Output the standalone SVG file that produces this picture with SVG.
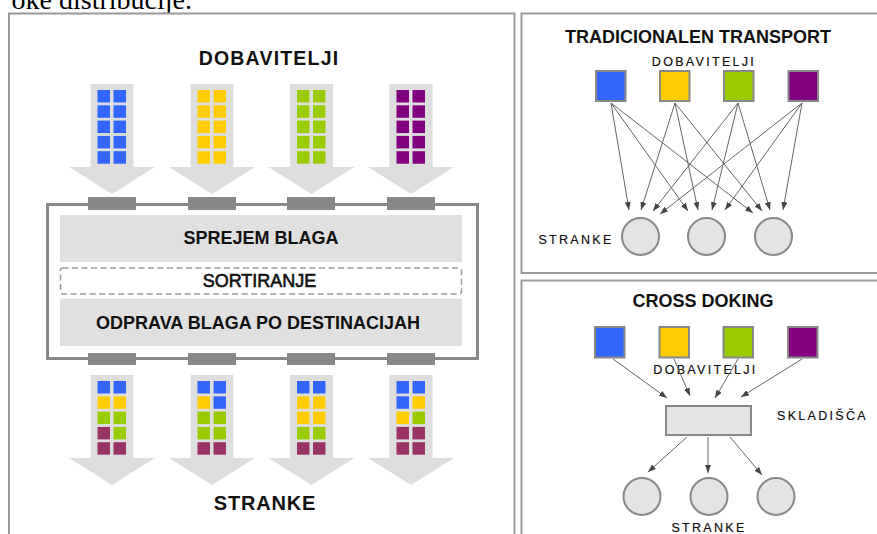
<svg xmlns="http://www.w3.org/2000/svg" xmlns:xlink="http://www.w3.org/1999/xlink" width="877" height="534" viewBox="0 0 877 534">
<style>
.panel{fill:#fff;stroke:#9a9a9a;stroke-width:2}
.arr{fill:#dedede}
.b{fill:#3366ff}.y{fill:#ffcc00}.g{fill:#99cc00}.p{fill:#800080}.m{fill:#993366}
.dock{fill:#888}
.band{fill:#e0e0e0}
.t{font-family:"Liberation Sans",Arial,sans-serif;fill:#111;text-anchor:middle}
.tb{font-weight:bold;font-size:18px}
.sm{font-size:12.5px;letter-spacing:2.3px;fill:#111;stroke:#111;stroke-width:0.2}
.sq{stroke:#888;stroke-width:2}
.node{fill:#e4e4e4;stroke:#888;stroke-width:2}
.ln{stroke:#666;stroke-width:1;fill:none;marker-end:url(#ah)}
</style>
<defs>
<marker id="ah" viewBox="0 0 8 6" refX="8" refY="3" markerWidth="8" markerHeight="6" markerUnits="userSpaceOnUse" orient="auto">
<path d="M0,0 L8,3 L0,6 z" fill="#444"/>
</marker>
<polygon id="bigarrow" class="arr" points="-21.5,0 21.5,0 21.5,83 43,83 0,110 -43,83 -21.5,83"/>
</defs>

<text x="192" y="9" font-family="'Liberation Serif','Times New Roman',serif" font-size="28" text-anchor="end" fill="#000">oke distribucije.</text>

<!-- left panel -->
<g id="left-panel">
<rect class="panel" x="9" y="13.5" width="505.5" height="530"/>
<text class="t" x="269" y="65" font-weight="bold" font-size="19.5" letter-spacing="1.2">DOBAVITELJI</text>
</g>

<g id="supplier-arrows">
<g transform="translate(112,84)"><use xlink:href="#bigarrow"/>
<rect class="b" x="-14.5" y="6" width="12.5" height="12.5"/><rect class="b" x="1.5" y="6" width="12.5" height="12.5"/>
<rect class="b" x="-14.5" y="21.3" width="12.5" height="12.5"/><rect class="b" x="1.5" y="21.3" width="12.5" height="12.5"/>
<rect class="b" x="-14.5" y="36.6" width="12.5" height="12.5"/><rect class="b" x="1.5" y="36.6" width="12.5" height="12.5"/>
<rect class="b" x="-14.5" y="51.9" width="12.5" height="12.5"/><rect class="b" x="1.5" y="51.9" width="12.5" height="12.5"/>
<rect class="b" x="-14.5" y="67.2" width="12.5" height="12.5"/><rect class="b" x="1.5" y="67.2" width="12.5" height="12.5"/>
</g>
<g transform="translate(212,84)"><use xlink:href="#bigarrow"/>
<rect class="y" x="-14.5" y="6" width="12.5" height="12.5"/><rect class="y" x="1.5" y="6" width="12.5" height="12.5"/>
<rect class="y" x="-14.5" y="21.3" width="12.5" height="12.5"/><rect class="y" x="1.5" y="21.3" width="12.5" height="12.5"/>
<rect class="y" x="-14.5" y="36.6" width="12.5" height="12.5"/><rect class="y" x="1.5" y="36.6" width="12.5" height="12.5"/>
<rect class="y" x="-14.5" y="51.9" width="12.5" height="12.5"/><rect class="y" x="1.5" y="51.9" width="12.5" height="12.5"/>
<rect class="y" x="-14.5" y="67.2" width="12.5" height="12.5"/><rect class="y" x="1.5" y="67.2" width="12.5" height="12.5"/>
</g>
<g transform="translate(311.5,84)"><use xlink:href="#bigarrow"/>
<rect class="g" x="-14.5" y="6" width="12.5" height="12.5"/><rect class="g" x="1.5" y="6" width="12.5" height="12.5"/>
<rect class="g" x="-14.5" y="21.3" width="12.5" height="12.5"/><rect class="g" x="1.5" y="21.3" width="12.5" height="12.5"/>
<rect class="g" x="-14.5" y="36.6" width="12.5" height="12.5"/><rect class="g" x="1.5" y="36.6" width="12.5" height="12.5"/>
<rect class="g" x="-14.5" y="51.9" width="12.5" height="12.5"/><rect class="g" x="1.5" y="51.9" width="12.5" height="12.5"/>
<rect class="g" x="-14.5" y="67.2" width="12.5" height="12.5"/><rect class="g" x="1.5" y="67.2" width="12.5" height="12.5"/>
</g>
<g transform="translate(411,84)"><use xlink:href="#bigarrow"/>
<rect class="p" x="-14.5" y="6" width="12.5" height="12.5"/><rect class="p" x="1.5" y="6" width="12.5" height="12.5"/>
<rect class="p" x="-14.5" y="21.3" width="12.5" height="12.5"/><rect class="p" x="1.5" y="21.3" width="12.5" height="12.5"/>
<rect class="p" x="-14.5" y="36.6" width="12.5" height="12.5"/><rect class="p" x="1.5" y="36.6" width="12.5" height="12.5"/>
<rect class="p" x="-14.5" y="51.9" width="12.5" height="12.5"/><rect class="p" x="1.5" y="51.9" width="12.5" height="12.5"/>
<rect class="p" x="-14.5" y="67.2" width="12.5" height="12.5"/><rect class="p" x="1.5" y="67.2" width="12.5" height="12.5"/>
</g>
</g>

<g id="crossdock-box">
<rect x="47.5" y="204.5" width="430" height="154" fill="#fff" stroke="#888" stroke-width="3"/>
<rect class="dock" x="88" y="197" width="48" height="13"/>
<rect class="dock" x="188" y="197" width="48" height="13"/>
<rect class="dock" x="287" y="197" width="48" height="13"/>
<rect class="dock" x="387" y="197" width="48" height="13"/>
<rect class="dock" x="88" y="353" width="48" height="12"/>
<rect class="dock" x="188" y="353" width="48" height="12"/>
<rect class="dock" x="287" y="353" width="48" height="12"/>
<rect class="dock" x="387" y="353" width="48" height="12"/>
</g>
<g id="sprejem">
<rect class="band" x="60" y="215" width="402" height="47"/>
<text class="t tb" x="261" y="243.5">SPREJEM BLAGA</text>
</g>
<g id="sortiranje">
<rect x="60.5" y="268" width="401" height="26" rx="2" fill="#fff" stroke="#999" stroke-width="1.5" stroke-dasharray="6,3.5"/>
<text class="t" x="259.5" y="287" font-size="18" stroke="#111" stroke-width="0.6">SORTIRANJE</text>
</g>
<g id="odprava">
<rect class="band" x="60" y="298.5" width="402" height="47.5"/>
<text class="t tb" x="258" y="328.5">ODPRAVA BLAGA PO DESTINACIJAH</text>
</g>

<g id="customer-arrows">
<g transform="translate(112,375)"><use xlink:href="#bigarrow"/>
<rect class="b" x="-14.5" y="6" width="12.5" height="12.5"/><rect class="b" x="1.5" y="6" width="12.5" height="12.5"/>
<rect class="y" x="-14.5" y="21.3" width="12.5" height="12.5"/><rect class="y" x="1.5" y="21.3" width="12.5" height="12.5"/>
<rect class="g" x="-14.5" y="36.6" width="12.5" height="12.5"/><rect class="g" x="1.5" y="36.6" width="12.5" height="12.5"/>
<rect class="m" x="-14.5" y="51.9" width="12.5" height="12.5"/><rect class="g" x="1.5" y="51.9" width="12.5" height="12.5"/>
<rect class="m" x="-14.5" y="67.2" width="12.5" height="12.5"/><rect class="m" x="1.5" y="67.2" width="12.5" height="12.5"/>
</g>
<g transform="translate(212,375)"><use xlink:href="#bigarrow"/>
<rect class="b" x="-14.5" y="6" width="12.5" height="12.5"/><rect class="b" x="1.5" y="6" width="12.5" height="12.5"/>
<rect class="y" x="-14.5" y="21.3" width="12.5" height="12.5"/><rect class="b" x="1.5" y="21.3" width="12.5" height="12.5"/>
<rect class="g" x="-14.5" y="36.6" width="12.5" height="12.5"/><rect class="g" x="1.5" y="36.6" width="12.5" height="12.5"/>
<rect class="g" x="-14.5" y="51.9" width="12.5" height="12.5"/><rect class="g" x="1.5" y="51.9" width="12.5" height="12.5"/>
<rect class="m" x="-14.5" y="67.2" width="12.5" height="12.5"/><rect class="m" x="1.5" y="67.2" width="12.5" height="12.5"/>
</g>
<g transform="translate(311.5,375)"><use xlink:href="#bigarrow"/>
<rect class="b" x="-14.5" y="6" width="12.5" height="12.5"/><rect class="b" x="1.5" y="6" width="12.5" height="12.5"/>
<rect class="y" x="-14.5" y="21.3" width="12.5" height="12.5"/><rect class="y" x="1.5" y="21.3" width="12.5" height="12.5"/>
<rect class="y" x="-14.5" y="36.6" width="12.5" height="12.5"/><rect class="y" x="1.5" y="36.6" width="12.5" height="12.5"/>
<rect class="g" x="-14.5" y="51.9" width="12.5" height="12.5"/><rect class="g" x="1.5" y="51.9" width="12.5" height="12.5"/>
<rect class="m" x="-14.5" y="67.2" width="12.5" height="12.5"/><rect class="m" x="1.5" y="67.2" width="12.5" height="12.5"/>
</g>
<g transform="translate(411,375)"><use xlink:href="#bigarrow"/>
<rect class="b" x="-14.5" y="6" width="12.5" height="12.5"/><rect class="b" x="1.5" y="6" width="12.5" height="12.5"/>
<rect class="b" x="-14.5" y="21.3" width="12.5" height="12.5"/><rect class="y" x="1.5" y="21.3" width="12.5" height="12.5"/>
<rect class="y" x="-14.5" y="36.6" width="12.5" height="12.5"/><rect class="g" x="1.5" y="36.6" width="12.5" height="12.5"/>
<rect class="m" x="-14.5" y="51.9" width="12.5" height="12.5"/><rect class="m" x="1.5" y="51.9" width="12.5" height="12.5"/>
<rect class="m" x="-14.5" y="67.2" width="12.5" height="12.5"/><rect class="m" x="1.5" y="67.2" width="12.5" height="12.5"/>
</g>
</g>
<text class="t" x="265" y="509.5" font-weight="bold" font-size="20" letter-spacing="0.8">STRANKE</text>

<!-- top right panel: traditional transport -->
<g id="trad-panel">
<rect class="panel" x="521.5" y="13.5" width="370" height="259.5"/>
<text class="t tb" x="698" y="42.5">TRADICIONALEN TRANSPORT</text>
<text class="t sm" x="704" y="65.5">DOBAVITELJI</text>
<text class="t sm" x="576" y="244" letter-spacing="1.6">STRANKE</text>
</g>
<g id="trad-connectors">
<line class="ln" x1="611" y1="103" x2="629" y2="210"/>
<line class="ln" x1="611" y1="103" x2="688" y2="211"/>
<line class="ln" x1="611" y1="103" x2="753" y2="213"/>
<line class="ln" x1="675" y1="103" x2="641" y2="210"/>
<line class="ln" x1="675" y1="103" x2="698" y2="210"/>
<line class="ln" x1="675" y1="103" x2="762" y2="211"/>
<line class="ln" x1="738" y1="103" x2="653" y2="211"/>
<line class="ln" x1="738" y1="103" x2="712" y2="210"/>
<line class="ln" x1="738" y1="103" x2="770" y2="210"/>
<line class="ln" x1="802" y1="103" x2="660" y2="214"/>
<line class="ln" x1="802" y1="103" x2="725" y2="210"/>
<line class="ln" x1="802" y1="103" x2="783" y2="210"/>
</g>
<g id="trad-sup-blue"><rect class="sq b" x="596" y="71" width="29.5" height="30"/></g>
<g id="trad-sup-yellow"><rect class="sq y" x="660" y="71" width="29.5" height="30"/></g>
<g id="trad-sup-green"><rect class="sq g" x="724" y="71" width="29.5" height="30"/></g>
<g id="trad-sup-purple"><rect class="sq p" x="788.5" y="71" width="29.5" height="30"/></g>
<g id="trad-cust-1"><circle class="node" cx="640.5" cy="236.5" r="18.5"/></g>
<g id="trad-cust-2"><circle class="node" cx="706.5" cy="236.5" r="18.5"/></g>
<g id="trad-cust-3"><circle class="node" cx="773.5" cy="236.5" r="18.5"/></g>

<!-- bottom right panel: cross docking -->
<g id="cd-panel">
<rect class="panel" x="521.5" y="280.5" width="370" height="270"/>
<text class="t tb" x="703" y="307">CROSS DOKING</text>
<text class="t sm" x="705.5" y="373.5">DOBAVITELJI</text>
<text class="t sm" x="777" y="420" style="text-anchor:start">SKLADIŠČA</text>
<text class="t sm" x="709" y="531.5">STRANKE</text>
</g>
<g id="cd-connectors">
<line class="ln" x1="613" y1="359" x2="667" y2="398"/>
<line class="ln" x1="674" y1="359" x2="690" y2="396"/>
<line class="ln" x1="738" y1="359" x2="715" y2="398"/>
<line class="ln" x1="802" y1="359" x2="741" y2="397"/>
<line class="ln" x1="687" y1="437" x2="648" y2="472"/>
<line class="ln" x1="708" y1="437" x2="708" y2="473"/>
<line class="ln" x1="730" y1="437" x2="762" y2="475"/>
</g>
<g id="cd-sup-blue"><rect class="sq b" x="595" y="327" width="29.5" height="30.5"/></g>
<g id="cd-sup-yellow"><rect class="sq y" x="659.5" y="327" width="29.5" height="30.5"/></g>
<g id="cd-sup-green"><rect class="sq g" x="723.5" y="327" width="29.5" height="30.5"/></g>
<g id="cd-sup-purple"><rect class="sq p" x="788" y="327" width="29.5" height="30.5"/></g>
<g id="cd-warehouse"><rect class="node" x="666" y="406" width="85" height="29" fill="#ddd"/></g>
<g id="cd-cust-1"><circle class="node" cx="642" cy="496.5" r="18.5"/></g>
<g id="cd-cust-2"><circle class="node" cx="709" cy="496.5" r="18.5"/></g>
<g id="cd-cust-3"><circle class="node" cx="776" cy="496.5" r="18.5"/></g>
</svg>
